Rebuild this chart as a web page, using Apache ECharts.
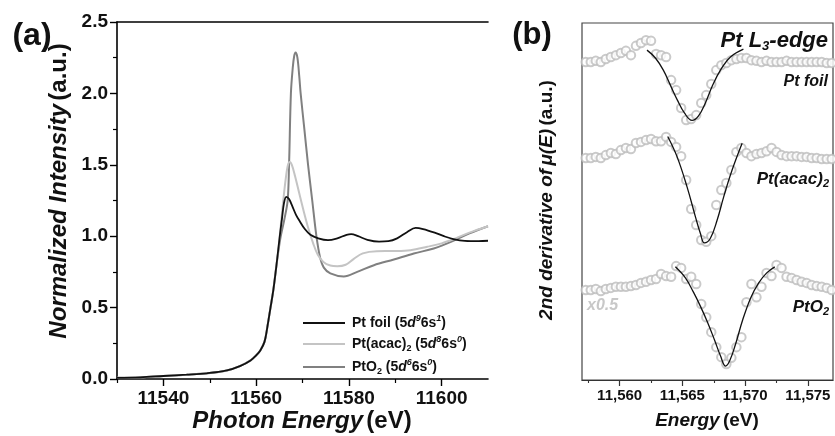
<!DOCTYPE html>
<html>
<head>
<meta charset="utf-8">
<script src="https://cdn.jsdelivr.net/npm/echarts@6/dist/echarts.min.js"></script>
<style>
  html, body { margin: 0; padding: 0; background: #fff; }
  #chart { width: 835px; height: 436px; }
</style>
</head>
<body>
<div id="chart"></div>
<script>
// ---------- (a) normalized XANES spectra ----------
const foilE = [11530, 11535, 11540, 11545, 11549.4, 11553.7, 11556.5, 11558.8, 11560, 11560.9, 11561.8, 11562.4, 11563.1, 11563.7, 11564.4, 11565.1, 11565.6, 11566.0, 11566.5, 11567.1, 11567.8, 11568.6, 11569.5, 11570.5, 11571.7, 11573.4, 11575.5, 11577.5, 11579.5, 11580.5, 11582, 11584, 11586.5, 11588.5, 11590.4, 11592.6, 11594.4, 11596, 11598.5, 11600.5, 11602.5, 11605, 11608, 11610];
const foilMu = [0.008, 0.012, 0.021, 0.03, 0.04, 0.06, 0.09, 0.13, 0.165, 0.2, 0.26, 0.36, 0.5, 0.62, 0.8, 1.0, 1.13, 1.23, 1.276, 1.26, 1.21, 1.15, 1.1, 1.05, 1.01, 0.985, 0.972, 0.985, 1.01, 1.015, 1.0, 0.975, 0.962, 0.965, 0.985, 1.03, 1.058, 1.05, 1.025, 1.0, 0.98, 0.967, 0.965, 0.968];

const acacE = [11530, 11535, 11540, 11545, 11549.4, 11553.7, 11556.5, 11558.8, 11560, 11560.9, 11561.8, 11562.4, 11563.1, 11563.7, 11564.4, 11565.1, 11565.7, 11566.3, 11566.8, 11567.2, 11567.7, 11568.4, 11569.3, 11570.3, 11571.3, 11572.3, 11573.3, 11574.5, 11576, 11577.5, 11579.3, 11581, 11583, 11586, 11589.7, 11593.3, 11596.9, 11600, 11603, 11606, 11610];
const acacMu = [0.008, 0.012, 0.021, 0.03, 0.04, 0.06, 0.09, 0.13, 0.165, 0.2, 0.26, 0.36, 0.5, 0.62, 0.8, 1.0, 1.2, 1.38, 1.49, 1.52, 1.5, 1.42, 1.3, 1.17, 1.05, 0.95, 0.87, 0.82, 0.795, 0.79, 0.8, 0.84, 0.88, 0.895, 0.896, 0.902, 0.926, 0.95, 0.985, 1.025, 1.07];

const oxE = [11530, 11535, 11540, 11545, 11549.4, 11553.7, 11556.5, 11558.8, 11560, 11560.9, 11561.8, 11562.4, 11563.1, 11563.7, 11564.4, 11565.2, 11566.1, 11566.8, 11567.1, 11567.5, 11567.9, 11568.2, 11568.5, 11568.9, 11569.3, 11569.6, 11570.4, 11571.2, 11572.1, 11573.0, 11573.8, 11574.6, 11576, 11578.9, 11581.8, 11585.4, 11589.7, 11594, 11598.3, 11602, 11606, 11610];
const oxMu = [0.008, 0.012, 0.021, 0.03, 0.04, 0.06, 0.09, 0.13, 0.165, 0.2, 0.26, 0.36, 0.5, 0.62, 0.8, 0.98, 1.12, 1.25, 1.5, 2.0, 2.18, 2.26, 2.286, 2.25, 2.12, 2.0, 1.75, 1.5, 1.25, 1.0, 0.85, 0.78, 0.74, 0.718, 0.75, 0.797, 0.837, 0.879, 0.914, 0.96, 1.02, 1.07];

const seriesNames = ['Pt foil', 'Pt(acac)2', 'PtO2'];
const xTicksA = [11540, 11560, 11580, 11600];
const xMinorA = [11530, 11550, 11570, 11590];

// ---------- (b) second derivative of mu(E), stacked, arbitrary units ----------
const derivE = [11557.3, 11557.7, 11558.1, 11558.5, 11558.9, 11559.3, 11559.7, 11560.1, 11560.5, 11560.9, 11561.3, 11561.7, 11562.1, 11562.5, 11562.9, 11563.3, 11563.7, 11564.1, 11564.5, 11564.9, 11565.3, 11565.7, 11566.1, 11566.5, 11566.9, 11567.3, 11567.7, 11568.1, 11568.5, 11568.9, 11569.3, 11569.7, 11570.1, 11570.5, 11570.9, 11571.3, 11571.7, 11572.1, 11572.5, 11572.9, 11573.3, 11573.7, 11574.1, 11574.5, 11574.9, 11575.3, 11575.7, 11576.1, 11576.5, 11576.9];
const foilD2 = [89.1, 89.1, 89.4, 89.1, 89.9, 90.5, 91.0, 91.6, 92.2, 91.0, 93.6, 94.4, 95.2, 95.0, 91.3, 91.0, 90.5, 84.0, 81.2, 76.2, 72.8, 73.1, 74.2, 77.6, 79.8, 82.9, 86.8, 88.2, 88.8, 89.6, 89.9, 90.2, 90.2, 89.6, 89.4, 89.1, 89.4, 89.1, 89.1, 89.1, 89.4, 89.1, 89.1, 89.1, 89.1, 89.1, 89.1, 89.1, 88.8, 88.8];
const acacD2 = [62.2, 62.2, 62.5, 62.2, 63.0, 63.6, 63.3, 64.4, 65.0, 64.7, 66.4, 66.7, 67.2, 67.5, 66.9, 66.9, 68.1, 66.7, 65.3, 62.7, 56.0, 47.9, 43.4, 39.2, 38.7, 40.3, 49.0, 53.2, 55.2, 58.8, 63.9, 65.0, 63.6, 62.7, 63.3, 63.6, 64.1, 65.0, 63.9, 63.0, 62.7, 62.7, 62.7, 62.5, 62.5, 62.2, 62.2, 61.9, 61.9, 61.9];
const oxD2 = [25.2, 25.2, 25.5, 24.9, 25.5, 25.8, 26.1, 26.1, 26.1, 26.3, 26.6, 27.2, 27.5, 28.0, 28.3, 29.7, 29.1, 28.9, 31.9, 31.4, 28.3, 28.9, 26.9, 21.3, 17.6, 13.4, 9.2, 6.4, 4.5, 6.2, 9.2, 12.0, 21.8, 26.9, 23.2, 26.1, 30.0, 29.1, 32.2, 31.4, 28.9, 28.6, 28.0, 27.5, 27.2, 26.6, 26.3, 26.1, 25.8, 25.2];

// fitted curves through the absorption minima
const foilFitE = [11562.18, 11562.85, 11563.48, 11564.04, 11564.6, 11565.16, 11565.77, 11566.27, 11566.83, 11567.39, 11568.03, 11568.83, 11569.86];
const foilFit = [92.4, 90.2, 86.8, 82.6, 78.4, 74.8, 72.7, 73.9, 77.6, 82.4, 86.8, 90.5, 92.7];
const acacFitE = [11563.83, 11564.58, 11565.37, 11566.04, 11566.43, 11566.75, 11567.23, 11567.77, 11568.29, 11568.96, 11569.76];
const acacFit = [68.2, 62.5, 54.1, 45.7, 41.1, 38.4, 39.7, 44.8, 51.3, 58.8, 66.3];
const oxFitE = [11564.44, 11565.24, 11565.88, 11566.43, 11567.0, 11567.56, 11568.04, 11568.44, 11568.76, 11569.24, 11569.8, 11570.44, 11571.08, 11571.72, 11572.36];
const oxFit = [31.7, 28.6, 24.6, 20.7, 16.2, 11.2, 6.7, 3.9, 5.3, 10.1, 16.8, 23.0, 27.2, 30.0, 31.7];

const xTicksB = [11560, 11565, 11570, 11575];
const xMinorB = [11557.5, 11562.5, 11567.5, 11572.5];

const FONT = "'Liberation Sans', Arial, Helvetica, sans-serif";
const C_FOIL = '#111111', C_ACAC = '#c4c4c4', C_OX = '#808080';
const C_DOT = '#bdbdbd';

const zip = (xs, ys) => xs.map((x, i) => [x, ys[i]]);

const chart = echarts.init(document.getElementById('chart'), null, { renderer: 'canvas' });

const legendRich = {
  b: { fontFamily: FONT, fontWeight: 'bold', fontSize: 14, color: '#111', lineHeight: 18 },
  i: { fontFamily: FONT, fontWeight: 'bold', fontStyle: 'italic', fontSize: 14, color: '#111', lineHeight: 18 },
  sup: { fontFamily: FONT, fontWeight: 'bold', fontStyle: 'italic', fontSize: 9, color: '#111', verticalAlign: 'top', lineHeight: 10 },
  sub: { fontFamily: FONT, fontWeight: 'bold', fontSize: 9, color: '#111', verticalAlign: 'bottom', lineHeight: 10 }
};
const legendText = {
  'Pt foil': '{b|Pt foil (5}{i|d}{sup|9}{b|6s}{sup|1}{b|)}',
  'Pt(acac)2': '{b|Pt(acac)}{sub|2}{b| (5}{i|d}{sup|8}{b|6s}{sup|0}{b|)}',
  'PtO2': '{b|PtO}{sub|2}{b| (5}{i|d}{sup|6}{b|6s}{sup|0}{b|)}'
};

const lineOpts = { showSymbol: false, smooth: 0.35, xAxisIndex: 0, yAxisIndex: 0 };

const option = {
  animation: false,
  backgroundColor: '#fff',
  grid: [
    { left: 117, top: 22, width: 371, height: 357, show: false },
    { left: 582, top: 23, width: 251, height: 357, show: true, borderColor: '#444', borderWidth: 1.2, backgroundColor: 'transparent' }
  ],
  legend: {
    data: seriesNames,
    orient: 'vertical',
    left: 298,
    top: 309,
    itemWidth: 42,
    itemHeight: 2,
    itemGap: 5,
    icon: 'rect',
    formatter: name => legendText[name],
    textStyle: { rich: legendRich, padding: [0, 0, 0, 2] }
  },
  xAxis: [
    { // (a) main axis with labels
      type: 'value', gridIndex: 0, min: 11530, max: 11610, interval: 10, position: 'bottom',
      splitLine: { show: false },
      axisLine: { show: true, lineStyle: { color: '#000', width: 1.6 } },
      axisTick: { show: true, customValues: xTicksA, length: 7, lineStyle: { color: '#000', width: 1.4 } },
      axisLabel: { customValues: xTicksA, margin: 10, fontFamily: FONT, fontWeight: 'bold', fontSize: 19, color: '#111', formatter: v => String(v) }
    },
    { // (a) minor ticks
      type: 'value', gridIndex: 0, min: 11530, max: 11610, interval: 10, position: 'bottom',
      splitLine: { show: false },
      axisLine: { show: false },
      axisTick: { show: true, customValues: xMinorA, length: 4, lineStyle: { color: '#000', width: 1.2 } },
      axisLabel: { show: false }
    },
    { // (a) top frame line
      type: 'value', gridIndex: 0, min: 11530, max: 11610, position: 'top',
      splitLine: { show: false },
      axisLine: { show: true, lineStyle: { color: '#000', width: 1.6 } },
      axisTick: { show: false }, axisLabel: { show: false }
    },
    { // (b) main axis with labels
      type: 'value', gridIndex: 1, min: 11557, max: 11577, interval: 1, position: 'bottom',
      splitLine: { show: false },
      axisLine: { show: true, lineStyle: { color: '#333', width: 1.2 } },
      axisTick: { show: true, customValues: xTicksB, length: 6, lineStyle: { color: '#333', width: 1.2 } },
      axisLabel: {
        customValues: xTicksB, margin: 8, fontFamily: FONT, fontWeight: 'bold', fontSize: 15, color: '#111',
        formatter: v => Number(v).toLocaleString('en-US')
      }
    },
    { // (b) minor ticks
      type: 'value', gridIndex: 1, min: 11557, max: 11577, interval: 1, position: 'bottom',
      splitLine: { show: false },
      axisLine: { show: false },
      axisTick: { show: true, customValues: xMinorB, length: 3, lineStyle: { color: '#333', width: 1.1 } },
      axisLabel: { show: false }
    }
  ],
  yAxis: [
    {
      type: 'value', gridIndex: 0, min: 0, max: 2.5, interval: 0.5,
      splitLine: { show: false },
      axisLine: { show: true, lineStyle: { color: '#000', width: 1.6 } },
      axisTick: { show: true, length: 7, lineStyle: { color: '#000', width: 1.4 } },
      minorTick: { show: true, splitNumber: 2, length: 4, lineStyle: { color: '#000', width: 1.2 } },
      axisLabel: { margin: 9, fontFamily: FONT, fontWeight: 'bold', fontSize: 19, color: '#111', formatter: v => v.toFixed(1) }
    },
    {
      type: 'value', gridIndex: 1, min: 0, max: 100,
      splitLine: { show: false },
      axisLine: { show: false }, axisTick: { show: false }, axisLabel: { show: false }
    }
  ],
  series: [
    Object.assign({ name: 'PtO2', type: 'line', data: zip(oxE, oxMu), lineStyle: { color: C_OX, width: 2 }, itemStyle: { color: C_OX }, z: 2 }, lineOpts),
    Object.assign({ name: 'Pt(acac)2', type: 'line', data: zip(acacE, acacMu), lineStyle: { color: C_ACAC, width: 2 }, itemStyle: { color: C_ACAC }, z: 3 }, lineOpts),
    Object.assign({ name: 'Pt foil', type: 'line', data: zip(foilE, foilMu), lineStyle: { color: C_FOIL, width: 1.8 }, itemStyle: { color: C_FOIL }, z: 4 }, lineOpts),

    { name: 'foil d2', type: 'scatter', xAxisIndex: 3, yAxisIndex: 1, data: zip(derivE, foilD2), symbol: 'emptyCircle', symbolSize: 8.5, itemStyle: { color: C_DOT, borderWidth: 1.6 }, z: 2 },
    { name: 'acac d2', type: 'scatter', xAxisIndex: 3, yAxisIndex: 1, data: zip(derivE, acacD2), symbol: 'emptyCircle', symbolSize: 8.5, itemStyle: { color: C_DOT, borderWidth: 1.6 }, z: 2 },
    { name: 'ox d2', type: 'scatter', xAxisIndex: 3, yAxisIndex: 1, data: zip(derivE, oxD2), symbol: 'emptyCircle', symbolSize: 8.5, itemStyle: { color: C_DOT, borderWidth: 1.6 }, z: 2 },

    { name: 'foil fit', type: 'line', xAxisIndex: 3, yAxisIndex: 1, data: zip(foilFitE, foilFit), showSymbol: false, smooth: 0.4, lineStyle: { color: '#111', width: 1.3 }, z: 5 },
    { name: 'acac fit', type: 'line', xAxisIndex: 3, yAxisIndex: 1, data: zip(acacFitE, acacFit), showSymbol: false, smooth: 0.4, lineStyle: { color: '#111', width: 1.3 }, z: 5 },
    { name: 'ox fit', type: 'line', xAxisIndex: 3, yAxisIndex: 1, data: zip(oxFitE, oxFit), showSymbol: false, smooth: 0.4, lineStyle: { color: '#111', width: 1.3 }, z: 5 }
  ],
  graphic: [
    { type: 'text', x: 32, y: 36, style: { text: '(a)', font: `bold 32px ${FONT}`, fill: '#111', align: 'center', verticalAlign: 'middle' } },
    { type: 'text', x: 532, y: 35, style: { text: '(b)', font: `bold 31px ${FONT}`, fill: '#111', align: 'center', verticalAlign: 'middle' } },
    { // (a) y title
      type: 'text', x: 59, y: 191, rotation: Math.PI / 2,
      style: {
        text: '{i|Normalized Intensity} {b|(a.u.)}', align: 'center', verticalAlign: 'middle',
        rich: {
          i: { fontFamily: FONT, fontWeight: 'bold', fontStyle: 'italic', fontSize: 24, fill: '#111' },
          b: { fontFamily: FONT, fontWeight: 'bold', fontSize: 24, fill: '#111' }
        }
      }
    },
    { // (a) x title
      type: 'text', x: 302, y: 421,
      style: {
        text: '{i|Photon Energy} {b|(eV)}', align: 'center', verticalAlign: 'middle',
        rich: {
          i: { fontFamily: FONT, fontWeight: 'bold', fontStyle: 'italic', fontSize: 24, fill: '#111' },
          b: { fontFamily: FONT, fontWeight: 'bold', fontSize: 24, fill: '#111' }
        }
      }
    },
    { // (b) y title
      type: 'text', x: 547, y: 200, rotation: Math.PI / 2,
      style: {
        text: '{i|2nd derivative of} {m|\u03BC(E)} {b|(a.u.)}', align: 'center', verticalAlign: 'middle',
        rich: {
          i: { fontFamily: FONT, fontWeight: 'bold', fontStyle: 'italic', fontSize: 19, fill: '#111' },
          m: { fontFamily: FONT, fontWeight: 'bold', fontStyle: 'italic', fontSize: 19, fill: '#111' },
          b: { fontFamily: FONT, fontWeight: 'bold', fontSize: 19, fill: '#111' }
        }
      }
    },
    { // (b) x title
      type: 'text', x: 707, y: 421,
      style: {
        text: '{i|Energy} {b|(eV)}', align: 'center', verticalAlign: 'middle',
        rich: {
          i: { fontFamily: FONT, fontWeight: 'bold', fontStyle: 'italic', fontSize: 19, fill: '#111' },
          b: { fontFamily: FONT, fontWeight: 'bold', fontSize: 19, fill: '#111' }
        }
      }
    },
    { // edge title
      type: 'text', x: 828, y: 41, z: 10,
      style: {
        text: '{t|Pt L}{s|3}{t|-edge}', align: 'right', verticalAlign: 'middle',
        rich: {
          t: { fontFamily: FONT, fontWeight: 'bold', fontStyle: 'italic', fontSize: 22, fill: '#111', lineHeight: 24 },
          s: { fontFamily: FONT, fontWeight: 'bold', fontStyle: 'italic', fontSize: 13, fill: '#111', verticalAlign: 'bottom', lineHeight: 12 }
        }
      }
    },
    { type: 'text', x: 828, y: 82, z: 10, style: { text: 'Pt foil', font: `italic bold 16px ${FONT}`, fill: '#111', align: 'right', verticalAlign: 'middle' } },
    {
      type: 'text', x: 829, y: 179, z: 10,
      style: {
        text: '{t|Pt(acac)}{s|2}', align: 'right', verticalAlign: 'middle',
        rich: {
          t: { fontFamily: FONT, fontWeight: 'bold', fontStyle: 'italic', fontSize: 17, fill: '#111', lineHeight: 20 },
          s: { fontFamily: FONT, fontWeight: 'bold', fontStyle: 'italic', fontSize: 11, fill: '#111', verticalAlign: 'bottom', lineHeight: 10 }
        }
      }
    },
    {
      type: 'text', x: 829, y: 307, z: 10,
      style: {
        text: '{t|PtO}{s|2}', align: 'right', verticalAlign: 'middle',
        rich: {
          t: { fontFamily: FONT, fontWeight: 'bold', fontStyle: 'italic', fontSize: 17, fill: '#111', lineHeight: 20 },
          s: { fontFamily: FONT, fontWeight: 'bold', fontStyle: 'italic', fontSize: 11, fill: '#111', verticalAlign: 'bottom', lineHeight: 10 }
        }
      }
    },
    { type: 'text', x: 587, y: 306, z: 10, style: { text: 'x0.5', font: `italic bold 16px ${FONT}`, fill: '#c8c8c8', align: 'left', verticalAlign: 'middle' } }
  ]
};

chart.setOption(option);
</script>
</body>
</html>
